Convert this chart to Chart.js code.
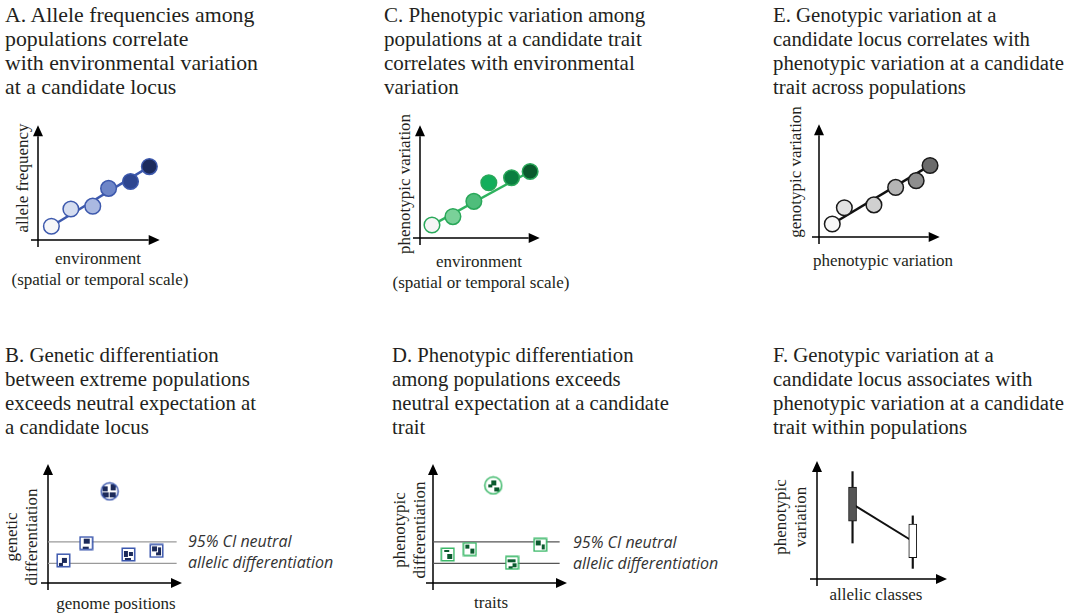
<!DOCTYPE html>
<html>
<head>
<meta charset="utf-8">
<script src="https://cdn.jsdelivr.net/npm/chart.js@4/dist/chart.umd.min.js"></script>
<style>
body{margin:0;background:#fff;width:1072px;height:614px;position:relative;overflow:hidden;font-family:"Liberation Serif","Times New Roman",serif;color:#231f20}
.title{position:absolute;font-size:21px;line-height:24px;white-space:nowrap}
.lab{position:absolute;font-size:17px;line-height:20px;white-space:nowrap;text-align:center;transform:translate(-50%,-50%)}
.rot{transform:translate(-50%,-50%) rotate(-90deg)}
.note{position:absolute;font-family:"Open Sans",sans-serif;font-style:italic;font-size:16px;line-height:21px;color:#333;white-space:nowrap}
.box{position:absolute}
</style>
</head>
<body>
<div class="title" style="left:5px;top:3px;font-size:21.8px">A. Allele frequencies among<br>populations correlate<br>with environmental variation<br>at a candidate locus</div>
<div class="title" style="left:384px;top:3px">C. Phenotypic variation among<br>populations at a candidate trait<br>correlates with environmental<br>variation</div>
<div class="title" style="left:773px;top:3px;font-size:20.8px">E. Genotypic variation at a<br>candidate locus correlates with<br>phenotypic variation at a candidate<br>trait across populations</div>
<div class="title" style="left:5px;top:343px;font-size:20.9px">B. Genetic differentiation<br>between extreme populations<br>exceeds neutral expectation at<br>a candidate locus</div>
<div class="title" style="left:392px;top:343px;font-size:20.7px">D. Phenotypic differentiation<br>among populations exceeds<br>neutral expectation at a candidate<br>trait</div>
<div class="title" style="left:773px;top:343px;font-size:20.8px">F. Genotypic variation at a<br>candidate locus associates with<br>phenotypic variation at a candidate<br>trait within populations</div>

<div class="lab rot" style="left:23px;top:178px">allele frequency</div>
<div class="lab" style="left:98px;top:259px">environment</div>
<div class="lab" style="left:100px;top:280px">(spatial or temporal scale)</div>

<div class="lab rot" style="left:405px;top:184px">phenotypic variation</div>
<div class="lab" style="left:479px;top:262px">environment</div>
<div class="lab" style="left:481px;top:283px">(spatial or temporal scale)</div>

<div class="lab rot" style="left:796px;top:172px">genotypic variation</div>
<div class="lab" style="left:883px;top:261px">phenotypic variation</div>

<div class="lab rot" style="left:22px;top:537px">genetic<br>differentiation</div>
<div class="lab" style="left:116px;top:604px">genome positions</div>
<div class="note" style="left:188px;top:531px">95% CI neutral<br>allelic differentiation</div>

<div class="lab rot" style="left:410px;top:530px">phenotypic<br>differentiation</div>
<div class="lab" style="left:491px;top:603px">traits</div>
<div class="note" style="left:573px;top:532px">95% CI neutral<br>allelic differentiation</div>

<div class="lab rot" style="left:791px;top:517px">phenotypic<br>variation</div>
<div class="lab" style="left:876px;top:595px">allelic classes</div>

<div class="box" id="pA"></div>
<div class="box" id="pB"></div>
<div class="box" id="pC"></div>
<div class="box" id="pD"></div>
<div class="box" id="pE"></div>
<div class="box" id="pF"></div>

<script>
// A: allele frequency vs environment
const envA = [1.1, 2.7, 4.5, 5.8, 7.6, 9.15];
const freqA = [1.2, 2.7, 2.95, 4.5, 5.1, 6.4];
// C: phenotypic variation vs environment
const envC = [1.0, 2.75, 4.5, 5.75, 7.65, 9.2];
const phenC = [1.15, 1.9, 3.25, 4.9, 5.35, 5.9];
// E: genotypic variation vs phenotypic variation
const phenE = [1.1, 2.1, 4.55, 6.35, 8.05, 9.2];
const genoE = [1.15, 2.6, 2.85, 4.4, 5.0, 6.35];

// B: genetic differentiation along genome positions
const posB = [1.15, 2.85, 6.0, 8.1];
const diffB = [1.9, 3.35, 2.4, 2.7];
const outlierB = {x: 4.6, y: 7.7};
// D: phenotypic differentiation per trait
const traitD = [1.1, 2.75, 5.9, 8.0];
const diffD = [2.4, 2.85, 1.7, 3.2];
const outlierD = {x: 4.5, y: 8.2};
// 95% CI of neutral differentiation
const ciB = [1.65, 3.45];
const ciD = [1.65, 3.45];
const ciEndB = 9.6, ciEndD = 9.45;

// F: phenotypic variation per allelic class (box: q1,q3 ; whisker: min,max ; mean)
const classF = [1.6, 8.55];
const boxF = [[4.9, 7.8], [1.8, 4.65]];
const whiskF = [[3.05, 9.1], [0.9, 5.35]];
const meanF = [6.35, 3.2];

const fillsA = ['#f5f6f9', '#d5ddf0', '#aab9e1', '#6e86c8', '#2e4690', '#1b2a5c'];
const fillsC = ['#f5f5f5', '#7ad199', '#4fbd7b', '#13ae5b', '#0b7e40', '#0a5a2c'];
const fillsE = ['#f7f7f7', '#e2e2e2', '#d0d0d0', '#b5b5b5', '#8e8e8e', '#6b6b6b'];

const arrowAxes = {
  id: 'arrowAxes',
  beforeDatasetsDraw(chart) {
    const {ctx, chartArea: a} = chart;
    const head = 11, half = 5;
    ctx.save();
    ctx.strokeStyle = '#000';
    ctx.fillStyle = '#000';
    ctx.lineWidth = 1.5;
    ctx.beginPath();
    ctx.moveTo(a.left, a.bottom + 7); ctx.lineTo(a.left, a.top + head);
    ctx.moveTo(a.left - 7, a.bottom); ctx.lineTo(a.right - head, a.bottom);
    ctx.stroke();
    ctx.beginPath();
    ctx.moveTo(a.left, a.top); ctx.lineTo(a.left - half, a.top + head); ctx.lineTo(a.left + half, a.top + head); ctx.closePath();
    ctx.moveTo(a.right, a.bottom); ctx.lineTo(a.right - head, a.bottom - half); ctx.lineTo(a.right - head, a.bottom + half); ctx.closePath();
    ctx.fill();
    ctx.restore();
  }
};

function squareMark(edge, dark, blocks) {
  const c = document.createElement('canvas');
  c.width = 15; c.height = 15;
  const g = c.getContext('2d');
  g.fillStyle = '#fff'; g.fillRect(1, 1, 13, 13);
  g.fillStyle = dark;
  blocks.forEach(b => g.fillRect(b[0], b[1], b[2], b[3]));
  g.strokeStyle = edge; g.lineWidth = 1.5; g.strokeRect(1.25, 1.25, 12.5, 12.5);
  return c;
}

function circleMark(edge, dark, blocks) {
  const c = document.createElement('canvas');
  c.width = 20; c.height = 20;
  const g = c.getContext('2d');
  g.beginPath(); g.arc(10, 10, 8.5, 0, Math.PI * 2);
  g.fillStyle = '#fff'; g.fill();
  g.save(); g.clip();
  g.fillStyle = dark;
  blocks.forEach(b => g.fillRect(b[0], b[1], b[2], b[3]));
  g.restore();
  g.beginPath(); g.arc(10, 10, 8.5, 0, Math.PI * 2);
  g.strokeStyle = edge; g.lineWidth = 1.5; g.stroke();
  return c;
}

// axis box: y-axis x, x-axis y, arrow tips
function makeChart(id, ax, datasets) {
  const pad = 10;
  const el = document.getElementById(id);
  el.style.left = (ax.x0 - pad) + 'px';
  el.style.top = (ax.tipY - 2) + 'px';
  const cv = document.createElement('canvas');
  cv.width = ax.tipX - ax.x0 + pad + 2;
  cv.height = ax.y0 - ax.tipY + pad + 2;
  el.appendChild(cv);
  return new Chart(cv, {
    type: 'scatter',
    data: {datasets},
    options: {
      responsive: false,
      animation: false,
      events: [],
      layout: {padding: {left: pad, top: 2, right: 2, bottom: pad}},
      plugins: {legend: {display: false}, tooltip: {enabled: false}},
      scales: {
        x: {type: 'linear', display: false, min: 0, max: 10},
        y: {type: 'linear', display: false, min: 0, max: 10}
      }
    },
    plugins: [arrowAxes]
  });
}

function pts(xs, ys) { return xs.map((x, i) => ({x, y: ys[i]})); }
function ends(xs, ys) { const n = xs.length - 1; return [{x: xs[0], y: ys[0]}, {x: xs[n], y: ys[n]}]; }

function trendPanel(id, ax, xs, ys, fills, edge, lineCol) {
  makeChart(id, ax, [
    {type: 'line', data: ends(xs, ys), borderColor: lineCol, borderWidth: 2.5, pointRadius: 0, order: 2, clip: false},
    {data: pts(xs, ys), backgroundColor: fills, borderColor: edge, borderWidth: 1.5, pointRadius: 7.8, order: 1, clip: false}
  ]);
}

trendPanel('pA', {x0: 38, y0: 240, tipX: 167, tipY: 118}, envA, freqA, fillsA, '#3d59ad', '#3d59ad');
trendPanel('pC', {x0: 420, y0: 238, tipX: 547, tipY: 118}, envC, phenC, fillsC, '#2aa85a', '#2fb35f');
trendPanel('pE', {x0: 819, y0: 237, tipX: 947, tipY: 117}, phenE, genoE, fillsE, '#1a1a1a', '#111');

function outlierPanel(id, ax, xs, ys, out, ci, ciEnd, edge, dark, lineCol, squares, circle) {
  const ds = ci.map(v => ({type: 'line', data: [{x: 0, y: v}, {x: ciEnd, y: v}], borderColor: lineCol, borderWidth: 1.3, pointRadius: 0, order: 2, clip: false}));
  ds.push({data: pts(xs, ys), pointStyle: squares.map(b => squareMark(edge, dark, b)), order: 1, clip: false});
  ds.push({data: [out], pointStyle: circleMark(edge, dark, circle), order: 1, clip: false});
  makeChart(id, ax, ds);
}

outlierPanel('pB', {x0: 48, y0: 583, tipX: 185, tipY: 461}, posB, diffB, outlierB, ciB, ciEndB,
  '#3b57ad', '#1c2a5a', '#9a9a9a',
  [[[6, 5, 5, 5], [3, 10, 4, 3]], [[5, 3, 6, 5], [4, 11, 6, 2]], [[3, 4, 4, 6], [8, 5, 4, 4], [4, 11, 6, 2]], [[3, 3, 5, 5], [9, 4, 3, 5], [7, 9, 5, 3]]],
  [[3, 5, 5, 5], [11, 3, 5, 6], [3, 11, 6, 5], [10, 11, 6, 5]]);

outlierPanel('pD', {x0: 433, y0: 583, tipX: 570, tipY: 461}, traitD, diffD, outlierD, ciD, ciEndD,
  '#3bb868', '#0b5a2e', '#555',
  [[[4, 3, 5, 2], [7, 7, 5, 5]], [[3, 3, 4, 4], [8, 7, 4, 5]], [[3, 4, 8, 3], [8, 8, 4, 4], [4, 11, 4, 2]], [[3, 3, 5, 5], [9, 7, 3, 5]]],
  [[8, 5, 5, 5], [5, 9, 4, 3], [11, 12, 5, 4]]);

makeChart('pF', {x0: 817, y0: 579, tipX: 947, tipY: 461}, [
  {type: 'line', data: pts(classF, meanF), borderColor: '#111', borderWidth: 2, pointRadius: 0, order: 3},
  {type: 'bar', data: pts(classF, whiskF), backgroundColor: '#111', barThickness: 1.5, grouped: false, order: 2},
  {type: 'bar', data: pts(classF, boxF), backgroundColor: ['#555555', '#ffffff'], borderColor: '#111', borderWidth: 1,
   borderSkipped: false, barThickness: 8, grouped: false, order: 1}
]);
</script>
</body>
</html>
